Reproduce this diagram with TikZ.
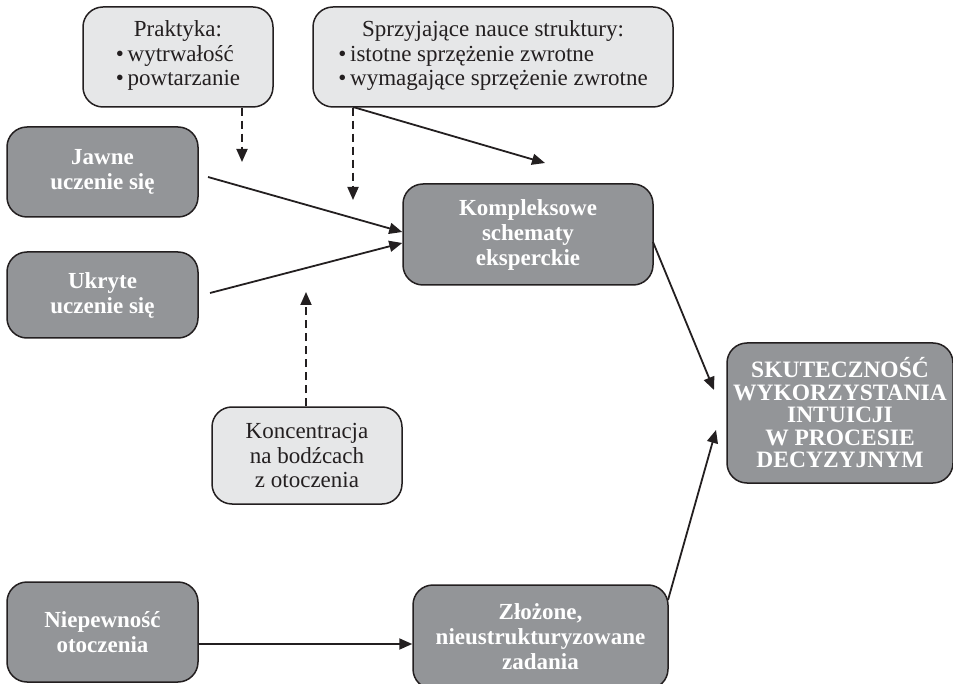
\documentclass[tikz,border=0pt]{standalone}
\usepackage{fontspec}
\setmainfont{Liberation Serif}
\usetikzlibrary{arrows.meta}
\definecolor{boxdark}{RGB}{147,149,152}
\definecolor{boxlight}{RGB}{230,231,232}
\definecolor{edge}{RGB}{35,31,32}
\begin{document}
\begin{tikzpicture}[x=1pt,y=-1pt,
  base/.style={draw=edge, line width=1.5pt, rounded corners=20pt,
    align=center, inner sep=0pt},
  darkbox/.style={base, fill=boxdark, text=white,
    font=\fontsize{23}{25}\selectfont\bfseries},
  bigbox/.style={base, fill=boxdark, text=white,
    font=\fontsize{23.5}{22.5}\selectfont\bfseries},
  lightbox/.style={base, fill=boxlight, text=edge,
    font=\fontsize{23}{24.5}\selectfont},
  link/.style={draw=edge, line width=1.8pt,
    -{Triangle[length=13pt,width=11pt]}},
  dlink/.style={link, dash pattern=on 8pt off 5pt}]
\useasboundingbox (0,0) rectangle (953,684);

% feeding conditions (light boxes)
\node[lightbox, minimum width=190, minimum height=100] (prak) at (178,57)
  {Praktyka:\\\begin{tabular}[t]{@{}l@{}}\textbullet\,wytrwałość\\ \textbullet\,powtarzanie\end{tabular}};
\node[lightbox, minimum width=360, minimum height=100] (sprz) at (493,57)
  {Sprzyjające nauce struktury:\\\begin{tabular}[t]{@{}l@{}}\textbullet\,istotne sprzężenie zwrotne\\ \textbullet\,wymagające sprzężenie zwrotne\end{tabular}};
\node[lightbox, minimum width=190, minimum height=97] (konc) at (307,455.5)
  {Koncentracja\\na bodźcach\\z otoczenia};

% main process boxes
\node[darkbox, minimum width=191, minimum height=90] (jawne) at (102.5,172)
  {Jawne\\uczenie się};
\node[darkbox, minimum width=191, minimum height=86] (ukryte) at (102.5,295)
  {Ukryte\\uczenie się};
\node[darkbox, minimum width=250, minimum height=101] (komp) at (528,234.5)
  {Kompleksowe\\schematy\\eksperckie};
\node[darkbox, minimum width=191, minimum height=100] (niep) at (102.5,632)
  {Niepewność\\otoczenia};
\node[darkbox, minimum width=255, minimum height=104] (zloz) at (540.5,637)
  {Złożone,\\nieustrukturyzowane\\zadania};
\node[bigbox, minimum width=226, minimum height=140] (skut) at (840,413)
  {SKUTECZNOŚĆ\\WYKORZYSTANIA\\INTUICJI\\W PROCESIE\\DECYZYJNYM};

% free arrow ends
\coordinate (pt) at (242,162);
\coordinate (st) at (353,200);
\coordinate (sa) at (353,107);
\coordinate (sb) at (545,163);
\coordinate (ct) at (306,292);
\coordinate (ja) at (208,177);
\coordinate (uk) at (210,293);
\coordinate (ka) at (653,242);
\coordinate (kb) at (714,390);
\coordinate (za) at (668,600);
\coordinate (zb) at (716,430);

% connectors
\draw[dlink] (prak.south -| pt) -- (pt);
\draw[dlink] (sprz.south -| st) -- (st);
\draw[link] (sa) -- (sb);
\draw[dlink] (konc.north -| ct) -- (ct);
\draw[link] (ja) -- (komp.west |- 0,232);
\draw[link] (uk) -- (komp.west |- 0,243);
\draw[link] (ka) -- (kb);
\draw[link] (za) -- (zb);
\draw[link] (niep.east |- 0,644) -- (zloz.west |- 0,644);
\end{tikzpicture}
\end{document}
